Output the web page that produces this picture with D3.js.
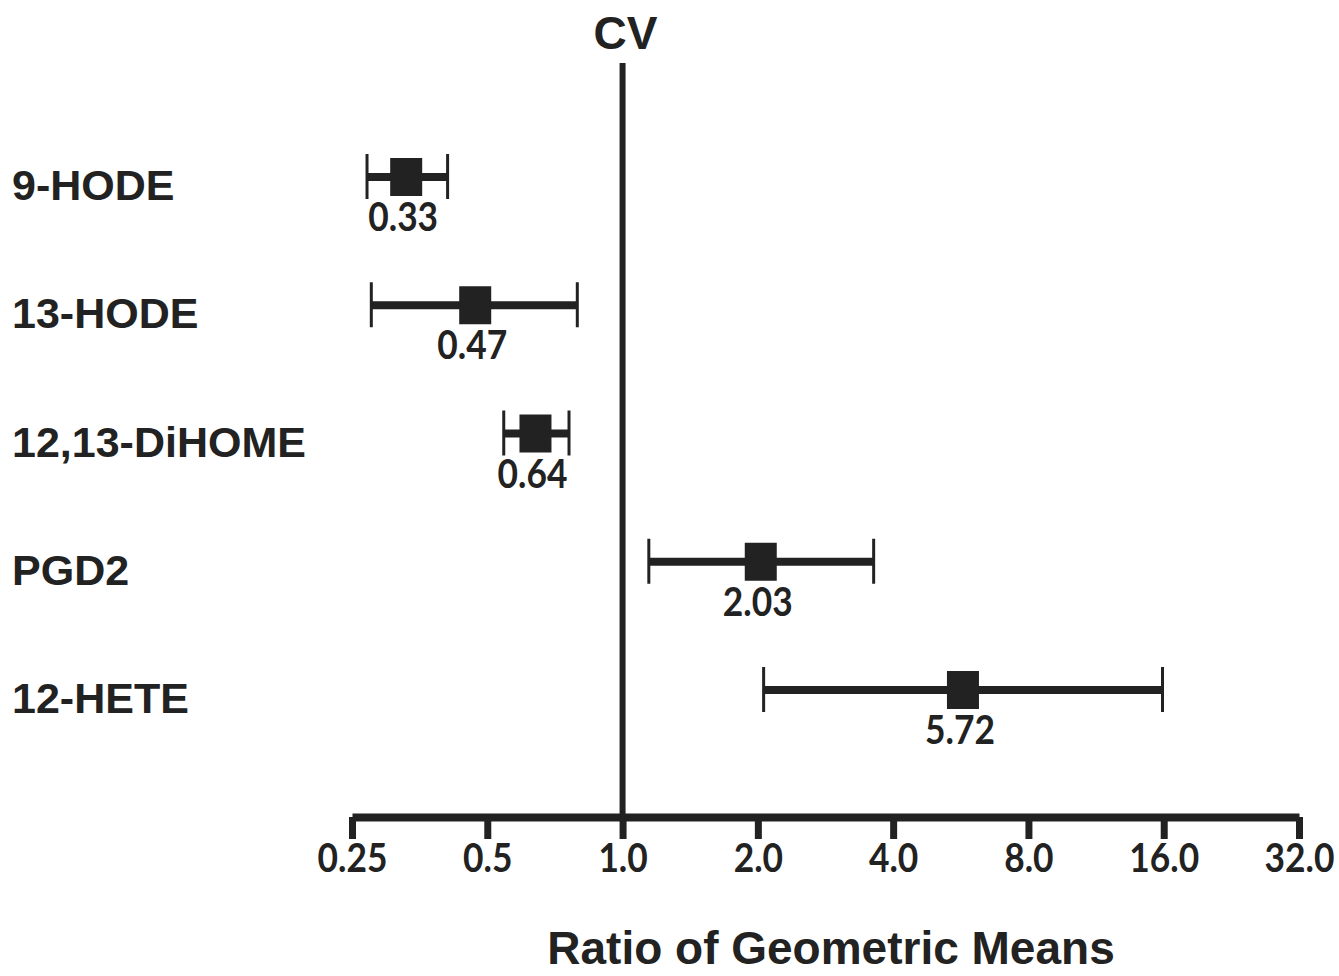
<!DOCTYPE html>
<html>
<head>
<meta charset="utf-8">
<script src="https://cdn.jsdelivr.net/npm/d3@7"></script>
<style>
  html, body { margin: 0; padding: 0; background: #ffffff; }
  svg { display: block; }
</style>
</head>
<body>
<svg id="chart" width="1339" height="976"></svg>
<script>
// ---- data ----
const categories = ["9-HODE", "13-HODE", "12,13-DiHOME", "PGD2", "12-HETE"];
const means      = [0.33, 0.47, 0.64, 2.03, 5.72];
const lowerCI    = [0.27, 0.276, 0.544, 1.144, 2.06];
const upperCI    = [0.408, 0.793, 0.76, 3.62, 15.9];
const meanLabels = ["0.33", "0.47", "0.64", "2.03", "5.72"];
const tickValues = [0.25, 0.5, 1, 2, 4, 8, 16, 32];
const tickLabels = ["0.25", "0.5", "1.0", "2.0", "4.0", "8.0", "16.0", "32.0"];
const refValue = 1;
const refLabel = "CV";
const axisTitle = "Ratio of Geometric Means";

// ---- layout ----
const svg = d3.select("#chart");
const ink = "#222222";
const axisY = 817;
const sx = 0.93, sy = 1.06; // slightly condensed look for numeric labels

const x = d3.scaleLog().base(2).domain([0.25, 32]).range([352, 1299]);
const y = d3.scalePoint().domain(categories).range([177, 690]);

const rows = categories.map((c, i) => ({
  cat: c, mean: means[i], lo: lowerCI[i], hi: upperCI[i], label: meanLabels[i]
}));

// reference line
svg.append("line")
  .attr("x1", x(refValue)).attr("x2", x(refValue))
  .attr("y1", 63).attr("y2", axisY)
  .attr("stroke", ink).attr("stroke-width", 6);

svg.append("text")
  .attr("x", x(refValue) + 3).attr("y", 49)
  .attr("text-anchor", "middle")
  .attr("font-family", "'Liberation Sans', Arial, sans-serif")
  .attr("font-weight", "bold").attr("font-size", 46)
  .attr("fill", ink)
  .text(refLabel);

// axis
const axis = d3.axisBottom(x)
  .tickValues(tickValues)
  .tickFormat((d, i) => tickLabels[i])
  .tickSizeInner(22).tickSizeOuter(0);

const gAxis = svg.append("g").attr("transform", `translate(0,${axisY})`).call(axis);
gAxis.select(".domain").attr("stroke", ink).attr("stroke-width", 8);
gAxis.selectAll(".tick line").attr("stroke", ink).attr("stroke-width", 7);
gAxis.selectAll(".tick text")
  .attr("x", 0)
  .attr("y", 55 / sy).attr("dy", 0)
  .attr("transform", `scale(${sx},${sy})`)
  .attr("fill", ink)
  .attr("font-family", "Lato, 'Open Sans', sans-serif")
  .attr("font-weight", "bold")
  .attr("font-size", 38);

// axis title
svg.append("text")
  .attr("x", 831).attr("y", 964)
  .attr("text-anchor", "middle")
  .attr("font-family", "'Liberation Sans', Arial, sans-serif")
  .attr("font-weight", "bold").attr("font-size", 46)
  .attr("fill", ink)
  .text(axisTitle);

// row labels
svg.append("g").selectAll("text").data(rows).join("text")
  .attr("x", 12).attr("y", d => y(d.cat) + 23)
  .attr("font-family", "'Liberation Sans', Arial, sans-serif")
  .attr("font-weight", "bold").attr("font-size", 43)
  .attr("fill", ink)
  .text(d => d.cat);

// error bars
const g = svg.append("g").selectAll("g").data(rows).join("g");

g.append("line")
  .attr("x1", d => x(d.lo)).attr("x2", d => x(d.hi))
  .attr("y1", d => y(d.cat)).attr("y2", d => y(d.cat))
  .attr("stroke", ink).attr("stroke-width", 8);

g.append("line")
  .attr("x1", d => x(d.lo)).attr("x2", d => x(d.lo))
  .attr("y1", d => y(d.cat) - 23).attr("y2", d => y(d.cat) + 22)
  .attr("stroke", ink).attr("stroke-width", 3);

g.append("line")
  .attr("x1", d => x(d.hi)).attr("x2", d => x(d.hi))
  .attr("y1", d => y(d.cat) - 23).attr("y2", d => y(d.cat) + 22)
  .attr("stroke", ink).attr("stroke-width", 3);

g.append("rect")
  .attr("x", d => x(d.mean) - 16).attr("y", d => y(d.cat) - 19)
  .attr("width", 32).attr("height", 38)
  .attr("fill", ink);

g.append("g")
  .attr("transform", d => `translate(${x(d.mean) - 3},${y(d.cat) + 54}) scale(${sx},${sy})`)
  .append("text")
  .attr("x", 0).attr("y", 0)
  .attr("text-anchor", "middle")
  .attr("font-family", "Lato, 'Open Sans', sans-serif")
  .attr("font-weight", "bold").attr("font-size", 38)
  .attr("fill", ink)
  .text(d => d.label);
</script>
</body>
</html>
